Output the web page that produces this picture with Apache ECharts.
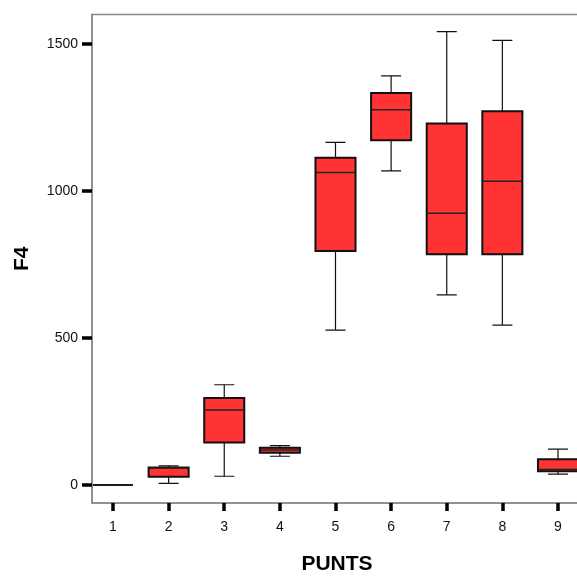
<!DOCTYPE html>
<html>
<head>
<meta charset="utf-8">
<script src="https://cdn.jsdelivr.net/npm/echarts@6/dist/echarts.min.js"></script>
<style>
  html, body { margin: 0; padding: 0; background: #fff; }
  #chart { width: 577px; height: 577px; }
</style>
</head>
<body>
<div id="chart"></div>
<script>
// Groups along the PUNTS axis
const punts = [1, 2, 3, 4, 5, 6, 7, 8, 9];
// Five-number summaries of F4 per group
const whiskerLow  = [0, 6, 30, 98, 527, 1068, 647, 544, 37];
const quart1      = [0, 28, 145, 110, 796, 1172, 785, 785, 47];
const medians     = [0, 58, 255, 119, 1063, 1276, 924, 1033, 53];
const quart3      = [0, 60, 296, 127, 1113, 1333, 1229, 1271, 88];
const whiskerHigh = [0, 65, 341, 134, 1165, 1391, 1542, 1512, 122];
// Axis tick values
const yTicks = [0, 500, 1000, 1500];
const xTicks = punts;

const boxData = punts.map((p, i) => [p, whiskerLow[i], quart1[i], medians[i], quart3[i], whiskerHigh[i]]);

const BOX_HALF = 0.36;   // half box width, in PUNTS units
const CAP_HALF = 0.18;   // half whisker-cap width

function renderBox(params, api) {
  const x = api.value(0);
  const lo = api.value(1), q1 = api.value(2), md = api.value(3), q3 = api.value(4), hi = api.value(5);
  const pt = (dx, v) => api.coord([x + dx, v]);
  const cLo = pt(0, lo), cQ1 = pt(0, q1), cQ3 = pt(0, q3), cHi = pt(0, hi);
  const bl = pt(-BOX_HALF, q1), tr = pt(BOX_HALF, q3);
  const medL = pt(-BOX_HALF, md), medR = pt(BOX_HALF, md);
  const capLoL = pt(-CAP_HALF, lo), capLoR = pt(CAP_HALF, lo);
  const capHiL = pt(-CAP_HALF, hi), capHiR = pt(CAP_HALF, hi);
  const whisk = { stroke: '#111', lineWidth: 1.2 };
  const children = [];
  if (hi > q3) {
    children.push({ type: 'line', shape: { x1: cQ3[0], y1: cQ3[1], x2: cHi[0], y2: cHi[1] }, style: whisk });
    children.push({ type: 'line', shape: { x1: capHiL[0], y1: capHiL[1], x2: capHiR[0], y2: capHiR[1] }, style: whisk });
  }
  if (lo < q1) {
    children.push({ type: 'line', shape: { x1: cQ1[0], y1: cQ1[1], x2: cLo[0], y2: cLo[1] }, style: whisk });
    children.push({ type: 'line', shape: { x1: capLoL[0], y1: capLoL[1], x2: capLoR[0], y2: capLoR[1] }, style: whisk });
  }
  children.push({
    type: 'rect',
    shape: { x: bl[0], y: tr[1], width: tr[0] - bl[0], height: bl[1] - tr[1] },
    style: { fill: '#ff3333', stroke: '#111', lineWidth: 2 }
  });
  children.push({ type: 'line', shape: { x1: medL[0], y1: medL[1], x2: medR[0], y2: medR[1] }, style: { stroke: '#222', lineWidth: 1.5 } });
  return { type: 'group', children: children };
}

const chart = echarts.init(document.getElementById('chart'), null, { renderer: 'canvas' });
chart.setOption({
  animation: false,
  backgroundColor: '#fff',
  grid: { left: 92, right: -5, top: 14.5, bottom: 74, outerBoundsMode: 'none', containLabel: false,
          show: true, borderColor: '#8a8a8a', borderWidth: 1.5, backgroundColor: 'transparent' },
  xAxis: {
    type: 'value', min: 0.6225, max: 9.4316,
    name: 'PUNTS', nameLocation: 'middle', nameGap: 51,
    nameTextStyle: { fontFamily: 'Liberation Sans', fontWeight: 'bold', fontSize: 21, color: '#000' },
    axisLine: { show: true, onZero: false, lineStyle: { color: '#8a8a8a', width: 1.5 } },
    axisTick: { show: true, customValues: xTicks, length: 8, lineStyle: { color: '#000', width: 3.5 } },
    axisLabel: { customValues: xTicks, margin: 17, fontFamily: 'Liberation Sans', fontSize: 14, color: '#111',
                 formatter: v => String(v) },
    splitLine: { show: false }
  },
  yAxis: {
    type: 'value', min: -61, max: 1600,
    name: 'F4', nameLocation: 'middle', nameGap: 59, nameRotate: 90,
    nameTextStyle: { fontFamily: 'Liberation Sans', fontWeight: 'bold', fontSize: 21, color: '#000' },
    axisLine: { show: true, onZero: false, lineStyle: { color: '#8a8a8a', width: 1.5 } },
    axisTick: { show: true, customValues: yTicks, length: 10, lineStyle: { color: '#000', width: 3.5 } },
    axisLabel: { customValues: yTicks, margin: 14, fontFamily: 'Liberation Sans', fontSize: 14, color: '#111',
                 formatter: v => String(v) },
    splitLine: { show: false }
  },
  series: [{
    type: 'custom',
    renderItem: renderBox,
    data: boxData,
    encode: { x: 0, y: [1, 2, 3, 4, 5] },
    clip: true
  }]
});
</script>
</body>
</html>
